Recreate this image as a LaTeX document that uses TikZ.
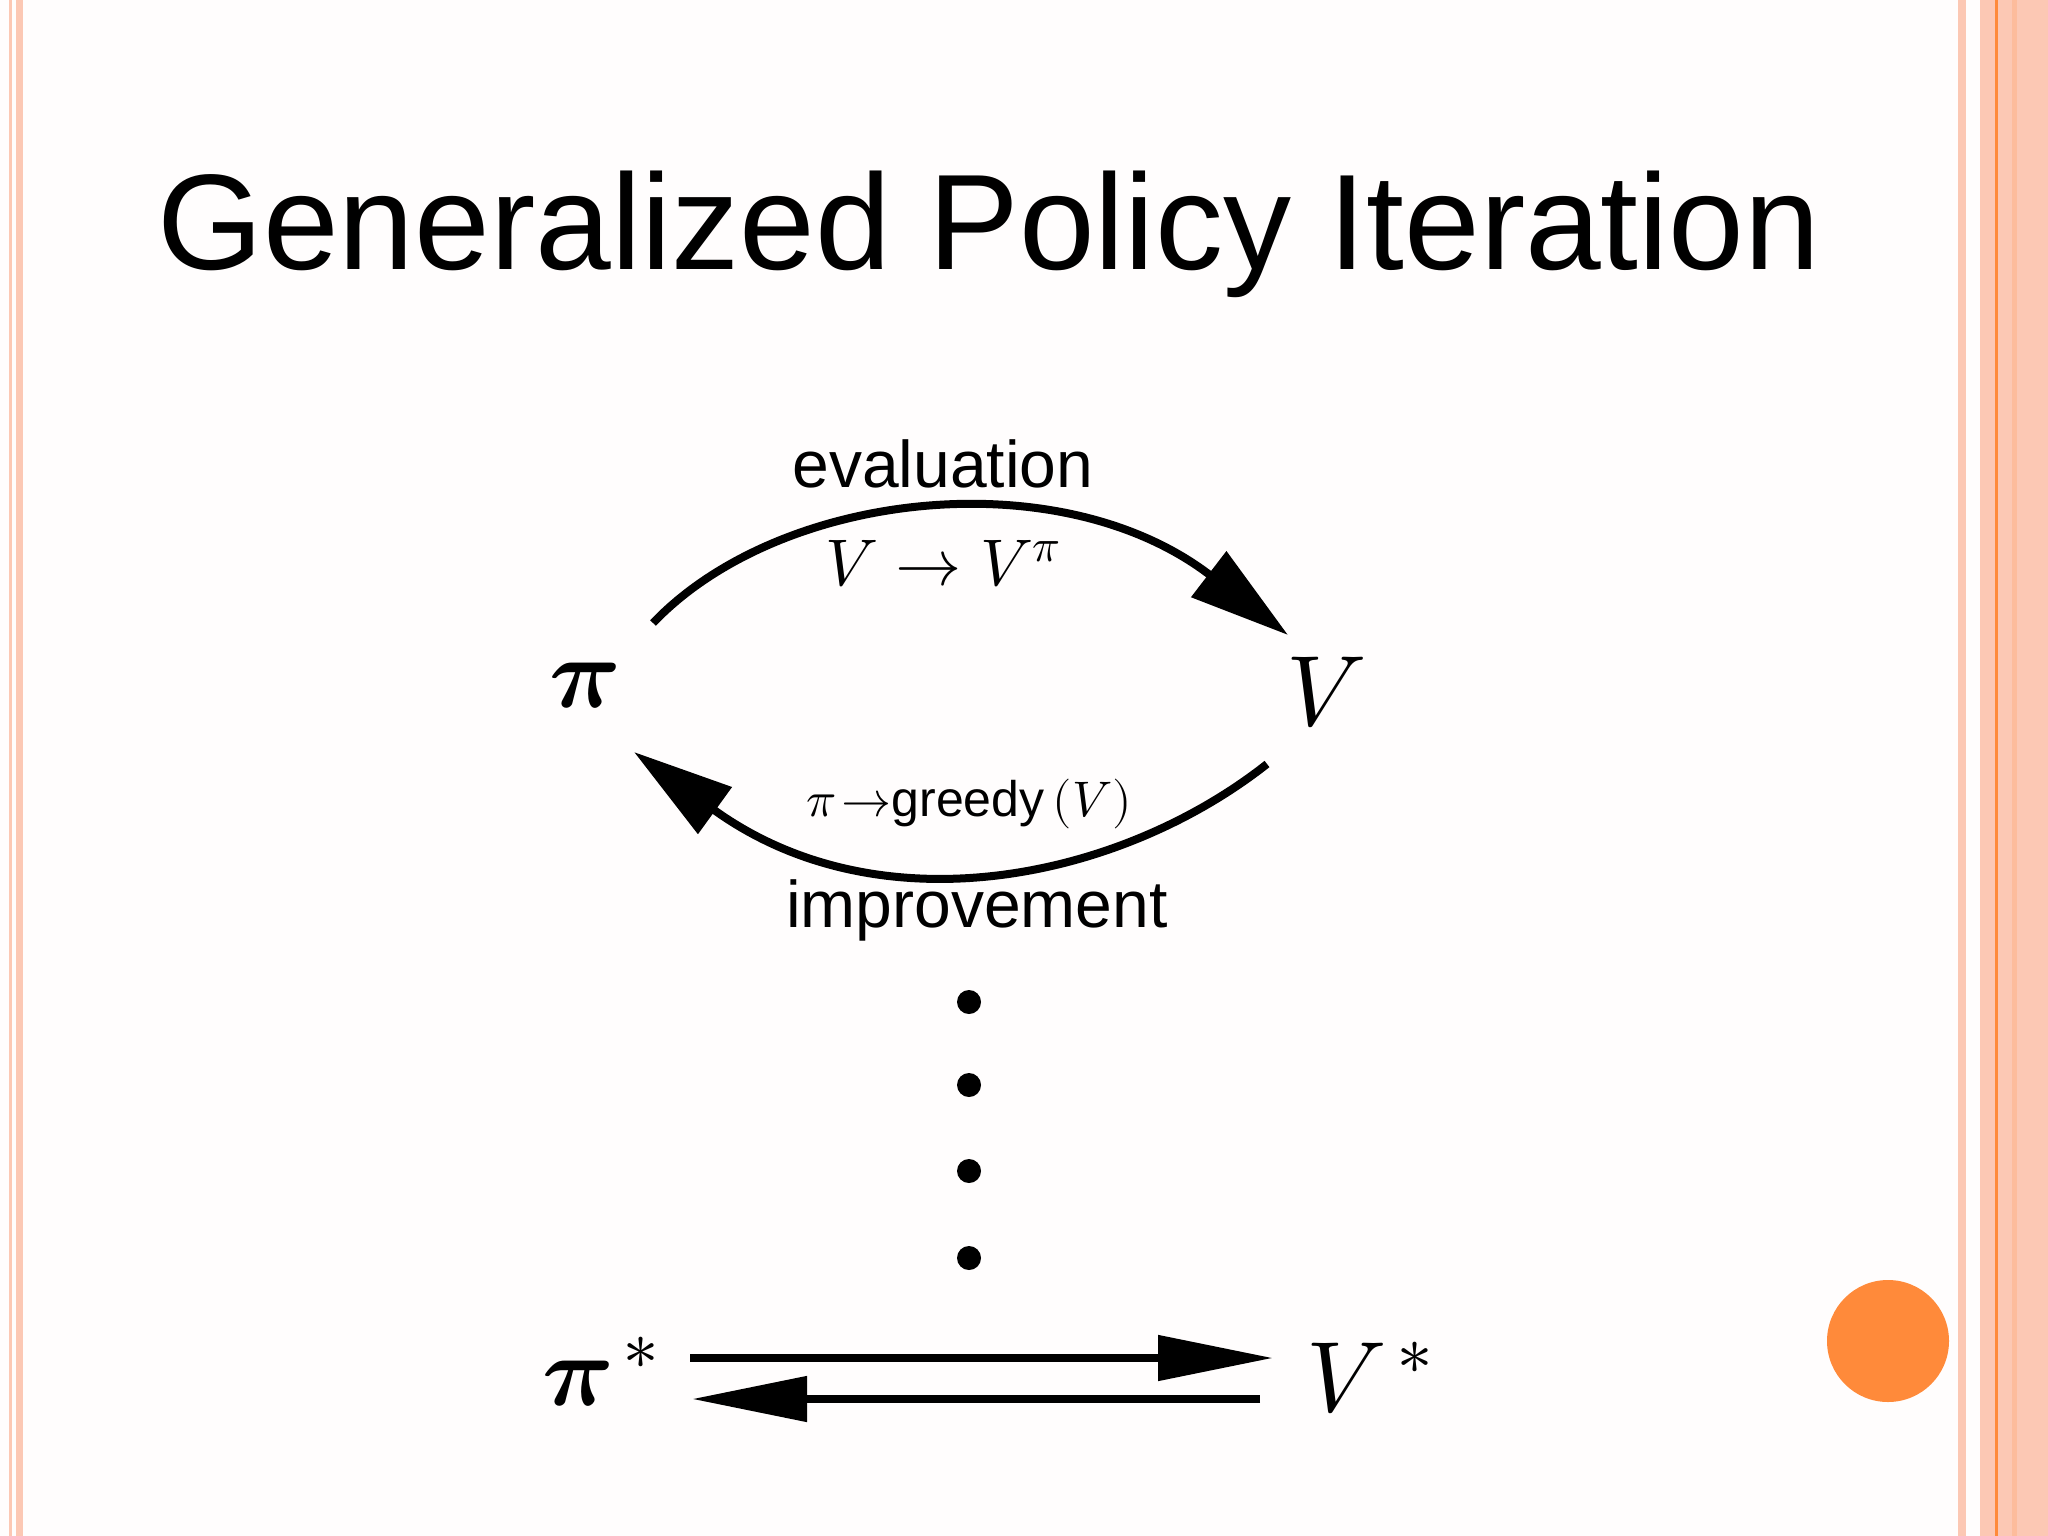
\documentclass[tikz,border=0pt]{standalone}
\usepackage{fontspec}
\setmainfont{Liberation Sans}
\usepackage{unicode-math}
\setmathfont{Latin Modern Math}
\usetikzlibrary{arrows.meta}
\definecolor{pk}{HTML}{FCC8B4}
\definecolor{org}{HTML}{FF8A3A}
\begin{document}
\begin{tikzpicture}[x=1pt,y=-1pt,
  ln/.style={line width=8pt},
  tip/.style={-{Triangle[length=100pt,width=56pt]}},
  tipb/.style={-{Triangle[length=115pt,width=44pt]}},
  lab/.style={font=\fontsize{66}{72}\selectfont},
  sym/.style={font=\fontsize{100}{105}\selectfont}]
\useasboundingbox (0,0) rectangle (2048,1536);
\fill[white!97!pk] (0,0) rectangle (2048,1536);
\fill[pk] (9,0) rectangle (12,1536);
\fill[pk] (16,0) rectangle (23,1536);
\fill[pk] (1958,0) rectangle (1966,1536);
\fill[pk] (1980,0) rectangle (2048,1536);
\fill[org] (1995,0) rectangle (1998,1536);
\fill[pk!80!org] (2012,0) rectangle (2017,1536);
\node (title) at (989,234) {\fontsize{136}{146}\selectfont Generalized Policy Iteration};
\node[sym] (pi) at (584,686) {$\symbf{\pi}$};
\node[sym] (V) at (1326,692) {$V$};
\coordinate (a1) at (653,623);
\coordinate (a2) at (1288,635);
\draw[ln,tip] (a1) .. controls (780,490) and (1060,460) .. (a2);
\node[lab] (ev) at (943,464) {evaluation};
\node[lab] (vv) at (943,564) {$V\rightarrow V^{\pi}$};
\coordinate (b1) at (1267,764);
\coordinate (b2) at (634,752);
\draw[ln,tip] (b1) .. controls (1120,880) and (880,930) .. (b2);
\node[font=\fontsize{50}{56}\selectfont] (gr) at (969,804) {$\pi\!\rightarrow$greedy\,$(V)$};
\node[lab] (im) at (977,910) {improvement};
\foreach \y/\n in {1002/d1,1085/d2,1171/d3,1258/d4}
  \fill (969,\y) circle (12) coordinate (\n);
\node[sym] (ps) at (601,1372) {$\symbf{\pi}^{\,*}$};
\node[sym] (vs) at (1370,1378) {$V^{\,*}$};
\coordinate (t1) at (690,1358); \coordinate (t2) at (1273,1358);
\coordinate (u1) at (1260,1399); \coordinate (u2) at (692,1399);
\draw[ln,tipb] (t1) -- (t2);
\draw[ln,tipb] (u1) -- (u2);
\fill[org] (1888,1341) circle (61);
\end{tikzpicture}
\end{document}
